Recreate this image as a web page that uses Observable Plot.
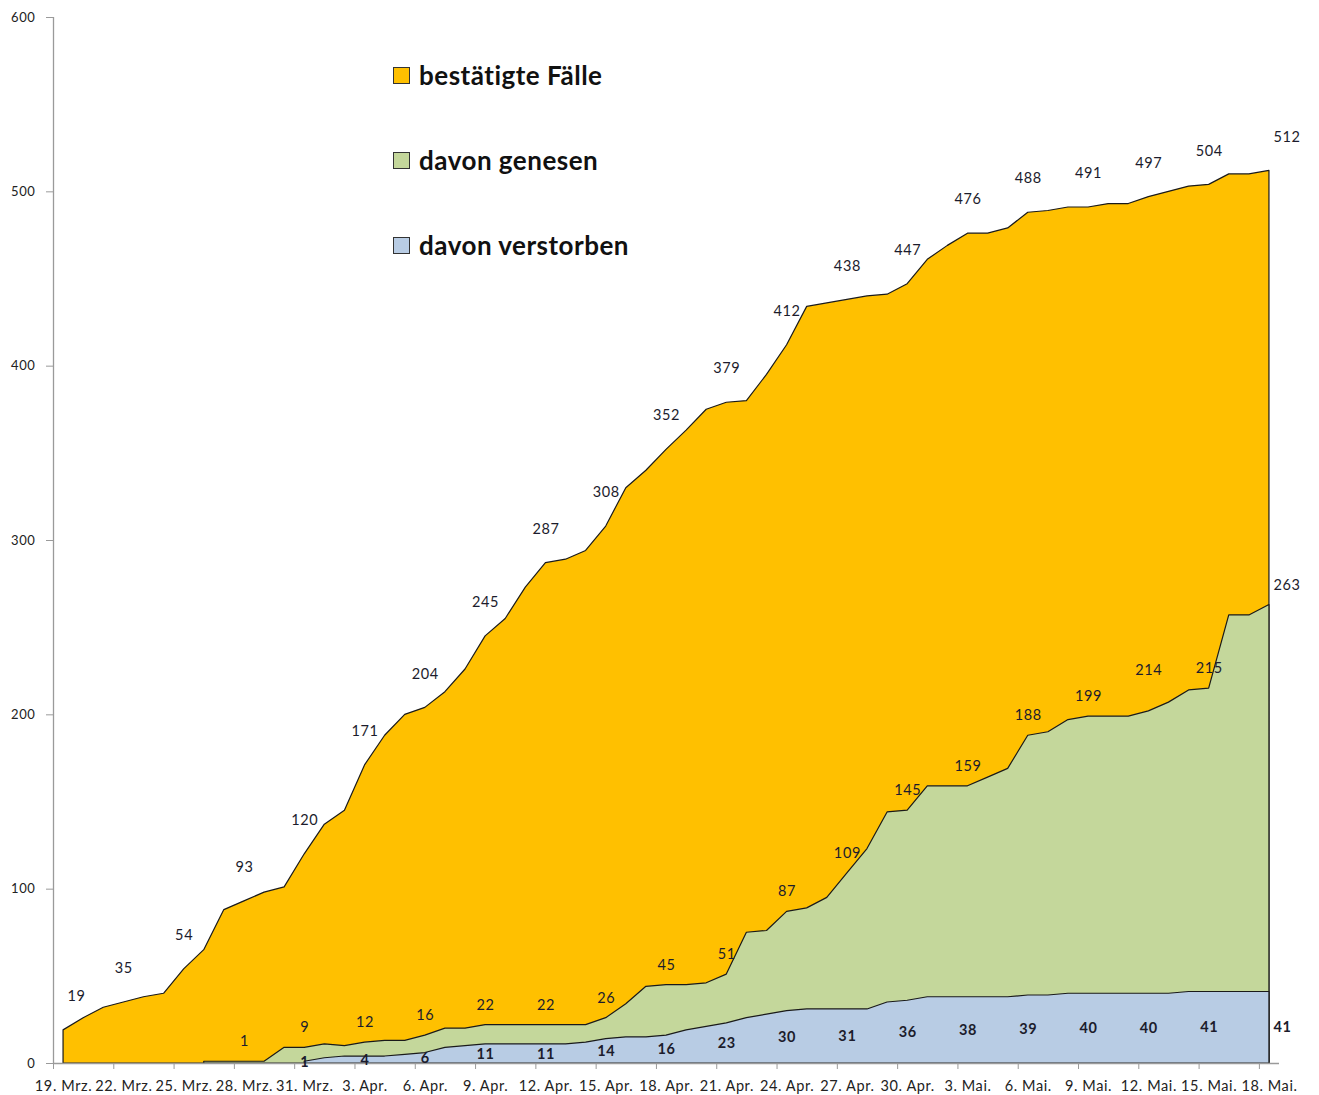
<!DOCTYPE html>
<html>
<head>
<meta charset="utf-8">
<script src="https://cdn.jsdelivr.net/npm/d3@7"></script>
<script src="https://cdn.jsdelivr.net/npm/@observablehq/plot@0.6"></script>
<style>
  body { margin: 0; background: #fff; }
  #wrap { position: relative; width: 1319px; height: 1095px; }
  #legend { position: absolute; left: 393px; top: 0; font-family: Lato, "Open Sans", sans-serif; font-weight: 700; font-size: 26px; color: #111; letter-spacing: 0.5px; }
  .item { position: absolute; left: 0; display: flex; align-items: center; white-space: nowrap; transform: translateY(-50%); }
  .sw { width: 15px; height: 15px; border: 1.5px solid #333; margin-right: 9px; flex: none; }
</style>
</head>
<body>
<div id="wrap"><div id="legend"></div></div>
<script>
// Day index 0 = 19. Mrz. 2020, day 60 = 18. Mai 2020
const seriesNames = ["bestätigte Fälle", "davon genesen", "davon verstorben"];
const seriesColors = ["#FFC000", "#C4D79B", "#B8CCE4"];

const confirmed = [19, 26, 32, 35, 38, 40, 54, 65, 88, 93, 98, 101, 120, 137, 145, 171, 188, 200, 204, 213,
  226, 245, 255, 273, 287, 289, 294, 308, 330, 340, 352, 363, 375, 379, 380, 395, 412, 434, 436, 438,
  440, 441, 447, 461, 469, 476, 476, 479, 488, 489, 491, 491, 493, 493, 497, 500, 503, 504, 510, 510, 512];

const recovered = [null, null, null, null, null, null, null, 1, 1, 1, 1, 9, 9, 11, 10, 12, 13, 13, 16, 20,
  20, 22, 22, 22, 22, 22, 22, 26, 34, 44, 45, 45, 46, 51, 75, 76, 87, 89, 95, 109,
  123, 144, 145, 159, 159, 159, 164, 169, 188, 190, 197, 199, 199, 199, 202, 207, 214, 215, 257, 257, 263];

const deaths = [null, null, null, null, null, null, null, null, null, null, null, null, 1, 3, 4, 4, 4, 5, 6, 9,
  10, 11, 11, 11, 11, 11, 12, 14, 15, 15, 16, 19, 21, 23, 26, 28, 30, 31, 31, 31,
  31, 35, 36, 38, 38, 38, 38, 38, 39, 39, 40, 40, 40, 40, 40, 40, 41, 41, 41, 41, 41];

// Data labels as printed in the chart
const confirmedLabelDays = [0, 3, 6, 9, 12, 15, 18, 21, 24, 27, 30, 33, 36, 39, 42, 45, 48, 51, 54, 57, 60];
const confirmedLabels = [19, 35, 54, 93, 120, 171, 204, 245, 287, 308, 352, 379, 412, 438, 447, 476, 488, 491, 497, 504, 512];
const recoveredLabelDays = [9, 12, 15, 18, 21, 24, 27, 30, 33, 36, 39, 42, 45, 48, 51, 54, 57, 60];
const recoveredLabels = [1, 9, 12, 16, 22, 22, 26, 45, 51, 87, 109, 145, 159, 188, 199, 214, 215, 263];
const deathLabelDays = [12, 15, 18, 21, 24, 27, 30, 33, 36, 39, 42, 45, 48, 51, 54, 57, 60];
const deathLabels = [1, 4, 6, 11, 11, 14, 16, 23, 30, 31, 36, 38, 39, 40, 40, 41, 41];

// X axis
const xLabelDays = [0, 3, 6, 9, 12, 15, 18, 21, 24, 27, 30, 33, 36, 39, 42, 45, 48, 51, 54, 57, 60];
const xLabels = ["19. Mrz.", "22. Mrz.", "25. Mrz.", "28. Mrz.", "31. Mrz.", "3. Apr.", "6. Apr.", "9. Apr.",
  "12. Apr.", "15. Apr.", "18. Apr.", "21. Apr.", "24. Apr.", "27. Apr.", "30. Apr.", "3. Mai.", "6. Mai.",
  "9. Mai.", "12. Mai.", "15. Mai.", "18. Mai."];
const yTicks = [0, 100, 200, 300, 400, 500, 600];

const rows = confirmed.map((v, i) => ({day: i, confirmed: v, recovered: recovered[i], deaths: deaths[i]}));
const lab = (days, vals) => days.map((d, i) => ({day: d, value: vals[i]}));
const confLab = lab(confirmedLabelDays, confirmedLabels);
const recLab = lab(recoveredLabelDays, recoveredLabels);
const deathLab = lab(deathLabelDays, deathLabels);
const lastDay = rows.length - 1;
const isEnd = d => d.day === 0 || d.day === lastDay;

const labelFont = {fontFamily: "Lato, 'Open Sans', sans-serif", fontSize: 14.5, fill: "#1c1c2c"};

function labels(data, opts) {
  return [
    Plot.text(data.filter(d => !isEnd(d)), {x: "day", ...opts}),
    Plot.text(data.filter(isEnd), {x: "day", ...opts, textAnchor: "start", dx: 4})
  ];
}

const edge = "#1a1a1a";
const chart = Plot.plot({
  width: 1319,
  height: 1095,
  marginLeft: 53,
  marginRight: 40,
  marginTop: 17,
  marginBottom: 32,
  x: {domain: [-0.5, 60.5]},
  y: {domain: [0, 600]},
  style: {fontFamily: "Lato, 'Open Sans', sans-serif", background: "#fff", color: "#222"},
  marks: [
    Plot.areaY(rows, {x: "day", y1: 0, y2: "confirmed", fill: seriesColors[0], stroke: edge, strokeWidth: 1.2}),
    Plot.areaY(rows.filter(d => d.recovered != null), {x: "day", y1: 0, y2: "recovered", fill: seriesColors[1], stroke: edge, strokeWidth: 1.2}),
    Plot.areaY(rows.filter(d => d.deaths != null), {x: "day", y1: 0, y2: "deaths", fill: seriesColors[2], stroke: edge, strokeWidth: 1.2}),
    Plot.ruleY([0], {stroke: "#9a9a9a", strokeWidth: 1.3}),
    Plot.ruleX([-0.5], {stroke: "#9a9a9a", strokeWidth: 1.3}),
    Plot.axisY({ticks: yTicks, tickSize: 7, tickPadding: 11, stroke: "#9a9a9a", color: "#222", fontSize: 13, label: null}),
    Plot.axisX({ticks: xLabelDays.map(d => d - 0.5), tickSize: 6, tickFormat: () => "", stroke: "#9a9a9a", label: null}),
    Plot.axisX({ticks: xLabelDays, tickSize: 0, tickPadding: 17, tickFormat: d => xLabels[xLabelDays.indexOf(d)], fontSize: 14.5, color: "#222", label: null}),
    ...labels(confLab, {y: "value", text: d => String(d.value), dy: -34, ...labelFont}),
    ...labels(recLab, {y: "value", text: d => String(d.value), dy: -20, ...labelFont}),
    ...labels(deathLab, {y: d => d.value / 2, text: d => String(d.value), ...labelFont, fontWeight: "bold"})
  ]
});
document.getElementById("wrap").prepend(chart);
chart.style.position = "absolute";
chart.style.left = "0";
chart.style.top = "0";
d3.select(chart).selectAll("text").style("letter-spacing", "0.6px");

const legend = document.getElementById("legend");
const legendTops = [75, 160, 245];
seriesNames.forEach((name, i) => {
  const item = document.createElement("div");
  item.className = "item";
  item.style.top = legendTops[i] + "px";
  const sw = document.createElement("div");
  sw.className = "sw";
  sw.style.background = seriesColors[i];
  const t = document.createElement("span");
  t.textContent = name;
  item.append(sw, t);
  legend.append(item);
});
document.getElementById("wrap").append(legend);
</script>
</body>
</html>
